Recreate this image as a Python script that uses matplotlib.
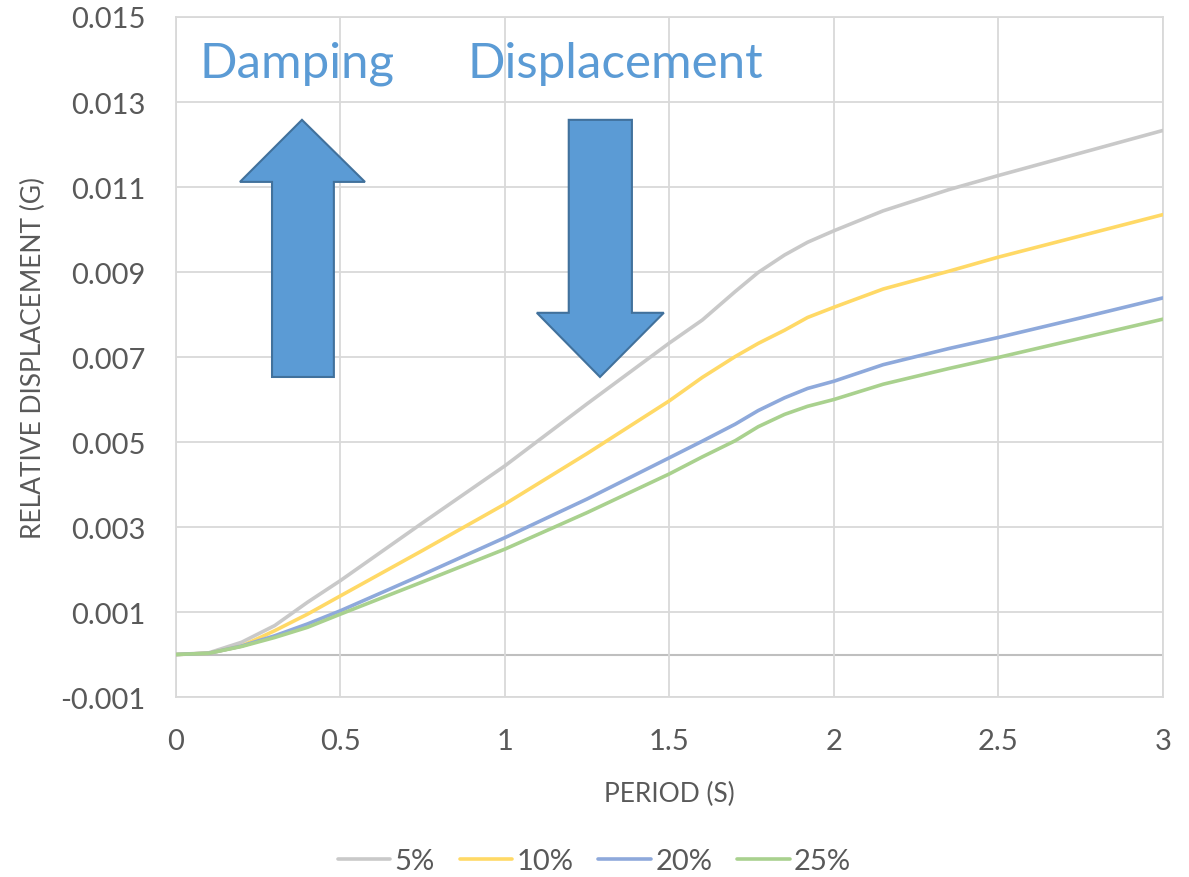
import numpy as np
import matplotlib.pyplot as plt
from matplotlib.patches import Polygon

plt.rcParams['font.family'] = ['Lato', 'DejaVu Sans']

period = [0, 0.1, 0.2, 0.3, 0.4, 0.5, 0.75, 1.0, 1.25, 1.5, 1.6, 1.7, 1.77, 1.85, 1.92,
          2.0, 2.15, 2.35, 2.5, 2.75, 3.0]
disp_5 = [0, 0.00004, 0.00029, 0.00068, 0.00123, 0.00174, 0.0031, 0.00444, 0.0059, 0.00733, 0.00787,
          0.00854, 0.00899, 0.0094, 0.0097, 0.00997, 0.01044, 0.01094, 0.01127, 0.0118, 0.01233]
disp_10 = [0, 0.00003, 0.0002, 0.00056, 0.00095, 0.00138, 0.00245, 0.00354, 0.00473, 0.00597, 0.00652,
           0.00701, 0.00732, 0.00763, 0.00793, 0.00817, 0.0086, 0.00902, 0.00935, 0.00985, 0.01035]
disp_20 = [0, 0.00003, 0.0002, 0.00044, 0.00072, 0.00103, 0.00188, 0.00275, 0.00366, 0.00463, 0.00502,
           0.00542, 0.00574, 0.00604, 0.00626, 0.00643, 0.00682, 0.0072, 0.00746, 0.00792, 0.00839]
disp_25 = [0, 0.00003, 0.00019, 0.0004, 0.00064, 0.00095, 0.00171, 0.00248, 0.00334, 0.00425, 0.00465,
           0.00503, 0.00536, 0.00565, 0.00584, 0.006, 0.00636, 0.00673, 0.00699, 0.00744, 0.00789]
labels = ['5%', '10%', '20%', '25%']
colors = ['#C9C9C9', '#FFD966', '#8EA9DB', '#A9D18E']

fig = plt.figure(figsize=(11.89, 8.78), dpi=100)
ax = fig.add_axes([0.148, 0.205, 0.83, 0.7745])

for y, lab, c in zip([disp_5, disp_10, disp_20, disp_25], labels, colors):
    ax.plot(period, y, color=c, lw=2.6, label=lab, solid_capstyle='round',
            solid_joinstyle='round', zorder=3)

ax.set_xlim(0, 3)
ax.set_ylim(-0.001, 0.015)
ax.set_xticks(np.arange(0, 3.01, 0.5))
ax.set_xticklabels(['0', '0.5', '1', '1.5', '2', '2.5', '3'])
ax.set_yticks(np.arange(-0.001, 0.0151, 0.002))
ax.set_yticklabels(['%.3f' % v for v in np.arange(-0.001, 0.0151, 0.002)])
ax.grid(True, color='#D9D9D9', lw=1.3, zorder=0)
ax.axhline(0, color='#BFBFBF', lw=1.5, zorder=1)
for s in ax.spines.values():
    s.set_color('#D9D9D9')
    s.set_linewidth(1.3)
ax.tick_params(length=0, labelsize=21, colors='#595959')
ax.tick_params(axis='y', pad=22)
ax.tick_params(axis='x', pad=22)
ax.set_xlabel('PERIOD (S)', fontsize=19, color='#595959', labelpad=20)
ax.set_ylabel('RELATIVE DISPLACEMENT (G)', fontsize=19, color='#595959', labelpad=10)

# annotation arrows
up = [(0.292, 0.00653), (0.292, 0.01112), (0.1945, 0.01112), (0.383, 0.01258),
      (0.5745, 0.01112), (0.480, 0.01112), (0.480, 0.00653)]
down = [(1.194, 0.01258), (1.194, 0.00804), (1.097, 0.00804), (1.289, 0.00653),
        (1.483, 0.00804), (1.386, 0.00804), (1.386, 0.01258)]
for pts in (up, down):
    ax.add_patch(Polygon(pts, closed=True, facecolor='#5B9BD5', edgecolor='#41719C', lw=1.5, zorder=5))

ax.text(0.073, 0.01359, 'Damping', color='#5B9BD5', fontsize=35.5, va='baseline', zorder=6)
ax.text(0.8875, 0.01359, 'Displacement', color='#5B9BD5', fontsize=35.5, va='baseline', zorder=6)

leg = fig.legend(loc='center', bbox_to_anchor=(0.5, 0.018), ncol=4, frameon=False,
                 fontsize=21, handlelength=1.8, columnspacing=0.85, handletextpad=0.15)
for t in leg.get_texts():
    t.set_color('#595959')

fig.savefig('out.png', dpi=100)
